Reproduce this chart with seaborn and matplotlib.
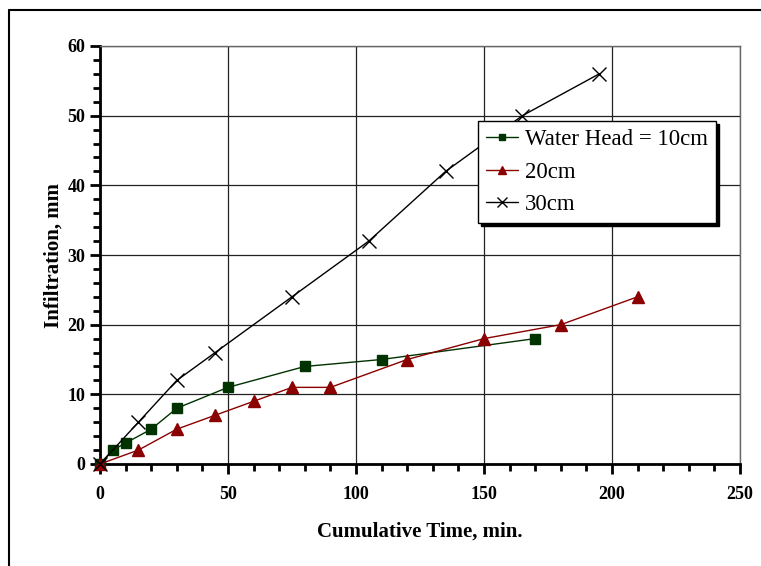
import numpy as np
import pandas as pd
import seaborn as sns
import matplotlib.pyplot as plt
from matplotlib.lines import Line2D
from matplotlib.ticker import MultipleLocator

# water head 10 cm
time_10 = [0, 5, 10, 20, 30, 50, 80, 110, 170]
infil_10 = [0, 2, 3, 5, 8, 11, 14, 15, 18]
# 20 cm
time_20 = [0, 15, 30, 45, 60, 75, 90, 120, 150, 180, 210]
infil_20 = [0, 2, 5, 7, 9, 11, 11, 15, 18, 20, 24]
# 30 cm
time_30 = [0, 15, 30, 45, 75, 105, 135, 165, 195]
infil_30 = [0, 6, 12, 16, 24, 32, 42, 50, 56]

labels = ["Water Head = 10cm", "20cm", "30cm"]

sns.set_theme(style="white")
plt.rcParams['font.family'] = ['Liberation Serif', 'DejaVu Serif']
plt.rcParams['text.color'] = 'black'
plt.rcParams['axes.labelcolor'] = 'black'
plt.rcParams['xtick.color'] = 'black'
plt.rcParams['ytick.color'] = 'black'

fig = plt.figure(figsize=(7.61, 5.66), dpi=100)
ax = fig.add_axes([100/761, 1-464/566, 640/761, 418/566])

series = [
    (time_10, infil_10, labels[0], "#003300", "s", 7),
    (time_20, infil_20, labels[1], "#8b0000", "^", 8),
    (time_30, infil_30, labels[2], "black", "x", 10),
]
for tx, iy, lab, col, mk, ms in series:
    df = pd.DataFrame({"t": tx, "i": iy})
    sns.lineplot(data=df, x="t", y="i", ax=ax, color=col, marker=mk,
                 markersize=ms, linewidth=1.0, label=lab, sort=False,
                 markeredgecolor=col, markeredgewidth=1.0,
                 clip_on=False, zorder=3)

ax.set_xlim(0, 250)
ax.set_ylim(0, 60)
ax.xaxis.set_major_locator(MultipleLocator(50))
ax.xaxis.set_minor_locator(MultipleLocator(10))
ax.yaxis.set_major_locator(MultipleLocator(10))
ax.yaxis.set_minor_locator(MultipleLocator(2))
ax.grid(True, which="major", color="#222222", linewidth=0.9)
ax.tick_params(axis="both", which="both", direction="out", color="black",
               width=2, bottom=True, left=True)
ax.tick_params(which="major", length=7)
ax.tick_params(which="minor", length=5)
ax.tick_params(axis="x", pad=9)
for lbl in ax.get_xticklabels() + ax.get_yticklabels():
    lbl.set_fontweight("bold")
    lbl.set_fontsize(13)

for s in ["left", "bottom"]:
    ax.spines[s].set_color("black")
    ax.spines[s].set_linewidth(2)
for s in ["top", "right"]:
    ax.spines[s].set_color("#666666")
    ax.spines[s].set_linewidth(1)

ax.set_xlabel("Cumulative Time, min.", fontsize=15, fontweight="bold", labelpad=13)
ax.set_ylabel("Infiltration, mm", fontsize=15, fontweight="bold", labelpad=3)

leg = ax.legend(loc="upper left", bbox_to_anchor=(378/640, (464-121)/418),
                fontsize=16.5, frameon=True, fancybox=False,
                shadow={"color": "black", "alpha": 1},
                edgecolor="black", borderpad=0.35, handlelength=1.4,
                handletextpad=0.3, labelspacing=0.5, borderaxespad=0,
                markerscale=0.7)
leg.get_frame().set_linewidth(1)
leg.get_frame().set_alpha(1)

# outer chart border
fig.add_artist(Line2D([9/761, 9/761], [0, 1-10/566], color="black", lw=1.5,
                      transform=fig.transFigure))
fig.add_artist(Line2D([9/761, 1], [1-10/566, 1-10/566], color="black", lw=1.5,
                      transform=fig.transFigure))

fig.savefig("out.png", dpi=100)
